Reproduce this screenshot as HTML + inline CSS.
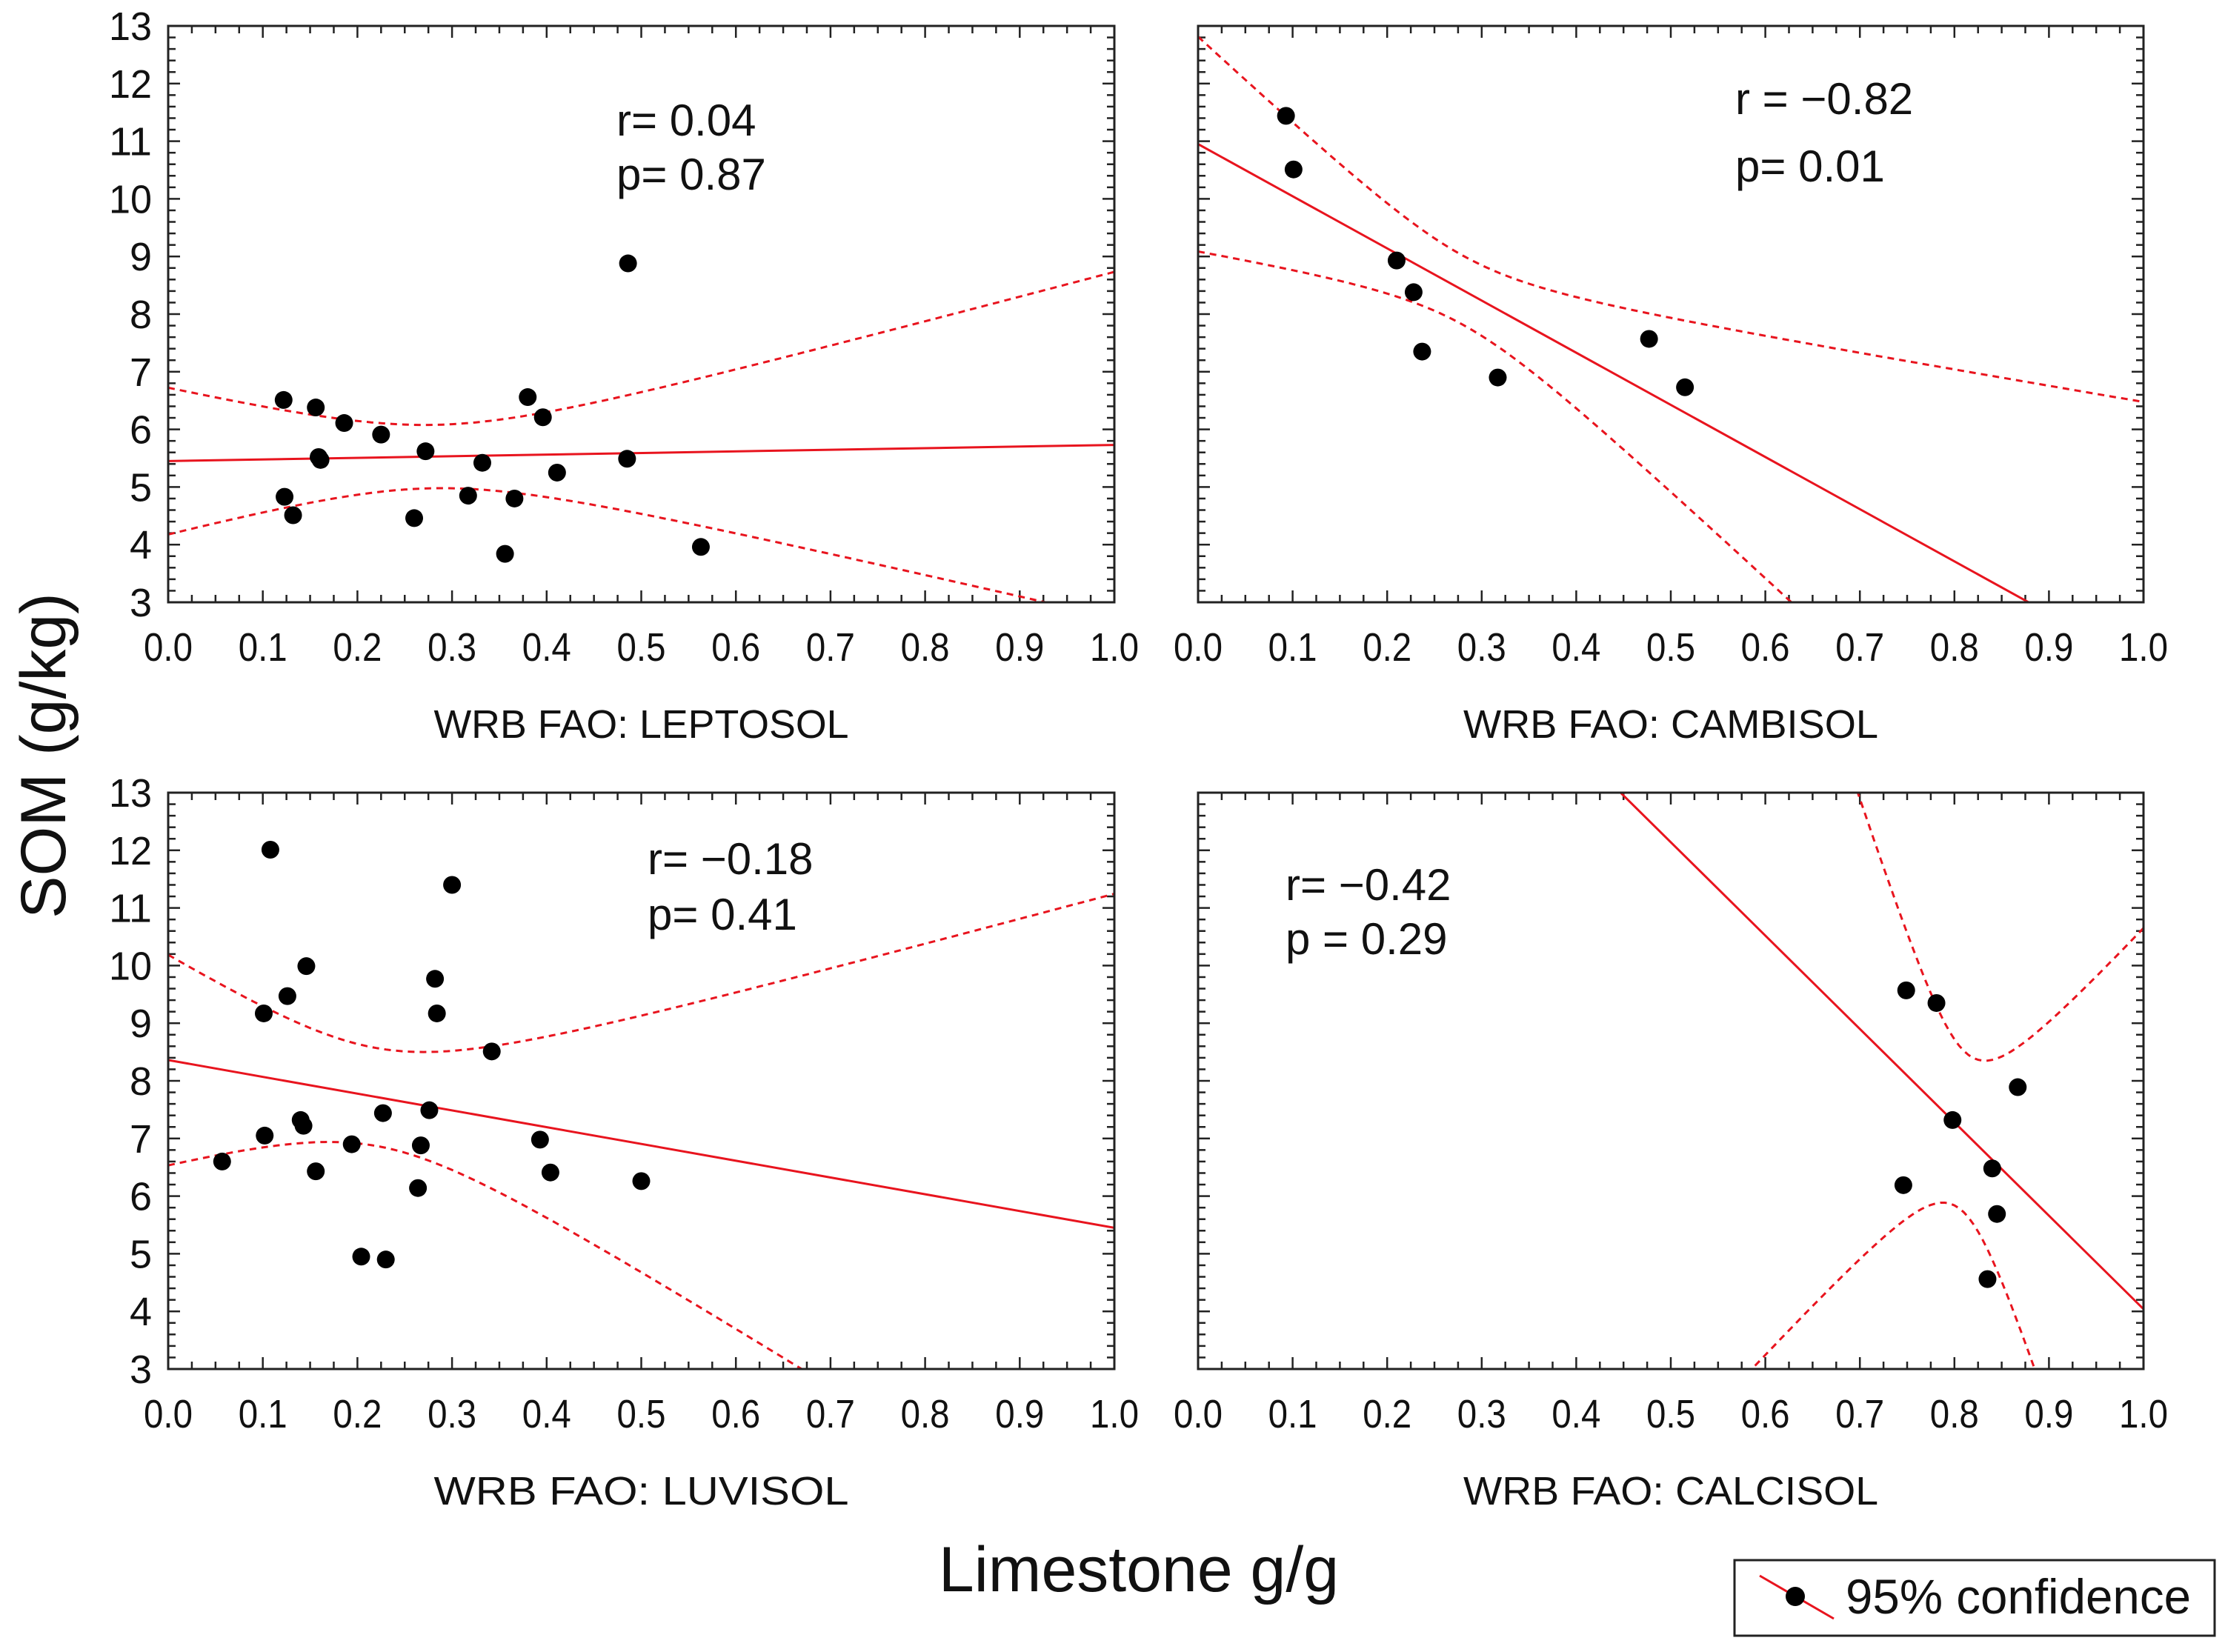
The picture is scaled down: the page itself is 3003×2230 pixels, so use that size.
<!DOCTYPE html>
<html><head><meta charset="utf-8"><style>
html,body{margin:0;padding:0;background:#fff;width:3003px;height:2230px;overflow:hidden;}
svg{display:block;}
text{font-family:"Liberation Sans",sans-serif;fill:#111;}
</style></head><body>
<svg id="chart" width="3003" height="2230" viewBox="0 0 3003 2230" xmlns="http://www.w3.org/2000/svg">
<defs id="defs"></defs>
<text x="0" y="0" font-size="86" text-anchor="middle" transform="translate(88,1020) rotate(-90)">SOM (g/kg)</text>
<text x="1537" y="2148" font-size="86" text-anchor="middle">Limestone g/g</text>
<g>
<rect x="2341" y="2106" width="648" height="102" fill="#fff" stroke="#222" stroke-width="3"/>
<line x1="2375" y1="2127" x2="2475" y2="2185" stroke="#e8141e" stroke-width="3"/>
<circle cx="2423" cy="2155" r="13" fill="#000"/>
<text x="2491" y="2178" font-size="66" textLength="466" lengthAdjust="spacingAndGlyphs">95% confidence</text>
</g>
</svg>
<script>
// ---- data ----
const panelNames = ["LEPTOSOL","CAMBISOL","LUVISOL","CALCISOL"];
const rLabels = ["r= 0.04","r = \u22120.82","r= \u22120.18","r= \u22120.42"];
const pLabels = ["p= 0.87","p= 0.01","p= 0.41","p = 0.29"];
const leptX = [0.122,0.156,0.186,0.225,0.380,0.396,0.123,0.132,0.159,0.161,0.272,0.332,0.411,0.485,0.486,0.260,0.317,0.366,0.356,0.563];
const leptY = [6.51,6.38,6.11,5.91,6.56,6.21,4.83,4.51,5.52,5.47,5.62,5.42,5.25,5.49,8.88,4.46,4.85,4.80,3.84,3.96];
const cambX = [0.093,0.101,0.210,0.228,0.237,0.317,0.477,0.515];
const cambY = [11.44,10.51,8.93,8.38,7.35,6.90,7.57,6.73];
const luviX = [0.108,0.300,0.146,0.126,0.101,0.282,0.284,0.342,0.057,0.102,0.140,0.143,0.156,0.194,0.227,0.276,0.267,0.264,0.393,0.404,0.500,0.204,0.230];
const luviY = [12.01,11.40,9.99,9.47,9.17,9.77,9.17,8.51,6.60,7.05,7.32,7.22,6.43,6.90,7.44,7.49,6.88,6.14,6.98,6.41,6.26,4.95,4.90];
const calcX = [0.749,0.781,0.867,0.798,0.840,0.746,0.845,0.835];
const calcY = [9.57,9.35,7.89,7.32,6.48,6.19,5.69,4.56];
// regression: [intercept, slope]
const fitLept = [5.45,0.28];
const fitCamb = [10.95,-9.05];
const fitLuvi = [8.36,-2.91];
const fitCalc = [20.24,-16.2];
// confidence band: [xbar, halfwidth at xbar, spread factor]
const bandLept = [0.28,0.55,4.1];
const bandCamb = [0.28,0.6,6.3];
const bandLuvi = [0.22,0.85,7.35];
const bandCalc = [0.81,1.4,34];
const yTicks = [3,4,5,6,7,8,9,10,11,12,13];
const xTicks = ["0.0","0.1","0.2","0.3","0.4","0.5","0.6","0.7","0.8","0.9","1.0"];

const NS="http://www.w3.org/2000/svg";
const svg=document.getElementById('chart');
const defs=document.getElementById('defs');
function mk(tag,attrs,parent){const e=document.createElementNS(NS,tag);for(const k in attrs)e.setAttribute(k,attrs[k]);parent.appendChild(e);return e;}

const layout=[
 {x0:227,x1:1504,y0:35,y1:813,X:leptX,Y:leptY,fit:fitLept,band:bandLept,ylab:true,ann:[832,183,256]},
 {x0:1617,x1:2893,y0:35,y1:813,X:cambX,Y:cambY,fit:fitCamb,band:bandCamb,ylab:false,ann:[2342,154,245]},
 {x0:227,x1:1504,y0:1070,y1:1848,X:luviX,Y:luviY,fit:fitLuvi,band:bandLuvi,ylab:true,ann:[874,1180,1255]},
 {x0:1617,x1:2893,y0:1070,y1:1848,X:calcX,Y:calcY,fit:fitCalc,band:bandCalc,ylab:false,ann:[1735,1215,1288]}
];

layout.forEach((P,i)=>{
 const sx=v=>P.x0+(P.x1-P.x0)*v;
 const sy=v=>P.y1-(P.y1-P.y0)*(v-3)/10;
 const g=mk('g',{},svg);
 
 
 const cp=mk('clipPath',{id:'clip'+i},defs);
 mk('rect',{x:P.x0,y:P.y0,width:P.x1-P.x0,height:P.y1-P.y0},cp);
 const tk=mk('g',{stroke:'#222','stroke-width':2.5},g);
 
 
 for(let k=0;k<=40;k++){const x=sx(k/40);const L=(k%4==0)?16:10;
  mk('line',{x1:x,y1:P.y1,x2:x,y2:P.y1-L},tk);mk('line',{x1:x,y1:P.y0,x2:x,y2:P.y0+L},tk);}
 for(let k=0;k<=50;k++){const y=sy(3+k/5);const L=(k%5==0)?16:10;
  mk('line',{x1:P.x0,y1:y,x2:P.x0+L,y2:y},tk);mk('line',{x1:P.x1,y1:y,x2:P.x1-L,y2:y},tk);}
 xTicks.forEach((t,k)=>{const e=mk('text',{x:sx(k/10),y:P.y1+79,'font-size':54,'text-anchor':'middle',textLength:66,lengthAdjust:'spacingAndGlyphs'},g);e.textContent=t;
  
  });
 if(P.ylab) yTicks.forEach(t=>{const a={x:P.x0-22,y:sy(t)+19,'font-size':54,'text-anchor':'end'};
  if(t>=10){a.textLength=58;a.lengthAdjust='spacingAndGlyphs';}
  const e=mk('text',a,g);e.textContent=t;
  
  });
 const st=mk('text',{x:(P.x0+P.x1)/2,y:P.y1+183,'font-size':54,'text-anchor':'middle',fill:'#333',textLength:560,lengthAdjust:'spacingAndGlyphs'},g);
 st.textContent='WRB FAO: '+panelNames[i];
 
 
 const cg=mk('g',{'clip-path':'url(#clip'+i+')'},g);
 const f=x=>P.fit[0]+P.fit[1]*x;
 const h=x=>Math.sqrt(P.band[1]*P.band[1]+P.band[2]*P.band[2]*(x-P.band[0])*(x-P.band[0]));
 let up='',lo='';
 for(let k=0;k<=200;k++){const x=k/200;up+=(k?'L':'M')+sx(x).toFixed(1)+' '+sy(f(x)+h(x)).toFixed(1);lo+=(k?'L':'M')+sx(x).toFixed(1)+' '+sy(f(x)-h(x)).toFixed(1);}
 const u=mk('path',{d:up,fill:'none',stroke:'#e8141e','stroke-width':3,'stroke-dasharray':'9 7'},cg);
 
 
 const l=mk('path',{d:lo,fill:'none',stroke:'#e8141e','stroke-width':3,'stroke-dasharray':'9 7'},cg);
 
 
 const rl=mk('line',{x1:sx(0),y1:sy(f(0)),x2:sx(1),y2:sy(f(1)),stroke:'#e8141e','stroke-width':3},cg);
 
 
 P.X.forEach((x,k)=>{const c=mk('circle',{cx:sx(x),cy:sy(P.Y[k]),r:12,fill:'#000'},g);
  
  });
 const fr=mk('rect',{x:P.x0,y:P.y0,width:P.x1-P.x0,height:P.y1-P.y0,fill:'none',stroke:'#222','stroke-width':3},g);
 
 
 const r=mk('text',{x:P.ann[0],y:P.ann[1],'font-size':60},g);r.textContent=rLabels[i];
 
 
 const p=mk('text',{x:P.ann[0],y:P.ann[2],'font-size':60},g);p.textContent=pLabels[i];
 
 
});
</script>
</body></html>
